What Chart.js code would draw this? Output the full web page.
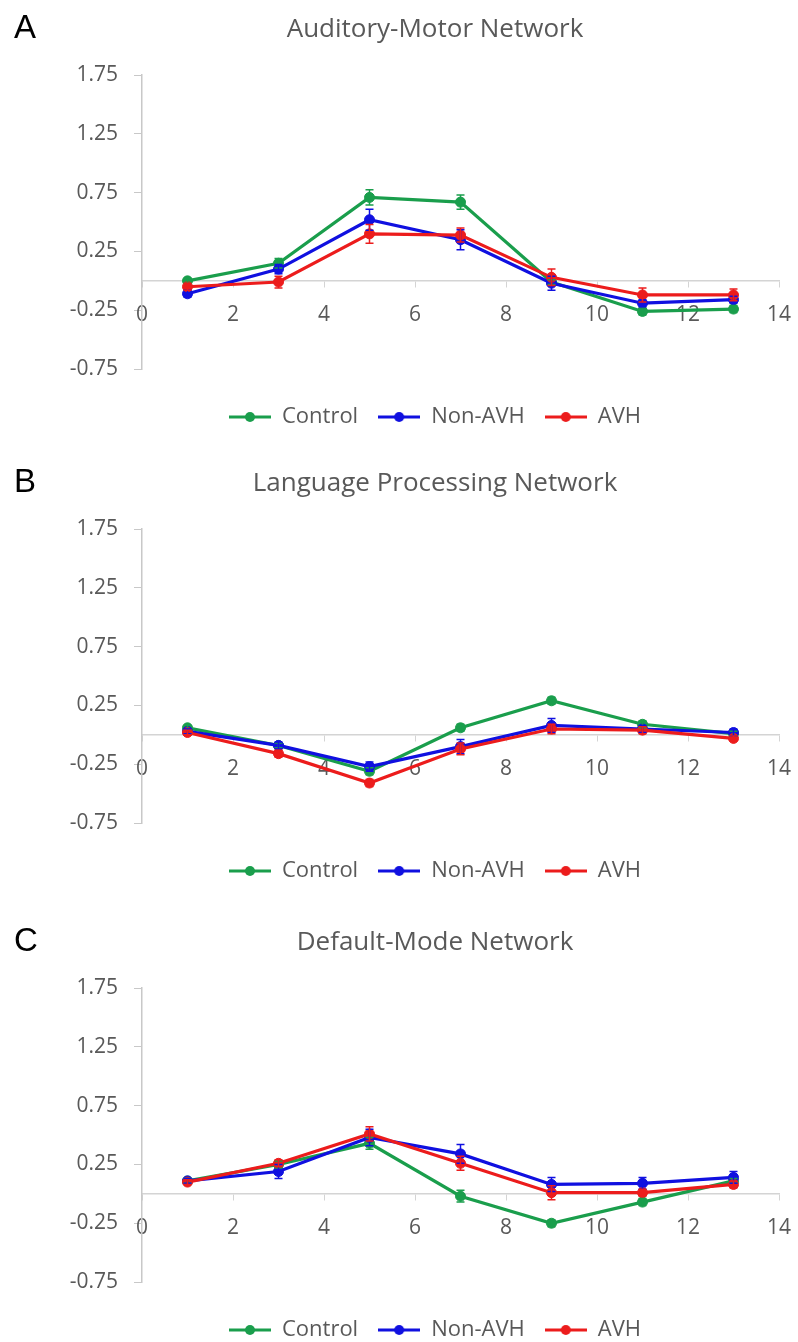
<!DOCTYPE html>
<html>
<head>
<meta charset="utf-8">
<script src="https://cdn.jsdelivr.net/npm/chart.js@4.4.1/dist/chart.umd.min.js"></script>
<style>
  body { margin: 0; background: #fff; width: 798px; height: 1342px; overflow: hidden; position: relative; }
  .panel { position: absolute; left: 0; width: 830px; height: 438px; }
  .letter { position: absolute; left: 14px; top: 10px; font: 33px "Liberation Sans", Arial, sans-serif; line-height: 1; color: #000; }
</style>
</head>
<body>
<div class="panel" style="top:0px"><canvas id="chartA" width="830" height="438"></canvas><div class="letter">A</div></div>
<div class="panel" style="top:454px"><canvas id="chartB" width="830" height="438"></canvas><div class="letter">B</div></div>
<div class="panel" style="top:913px"><canvas id="chartC" width="830" height="438"></canvas><div class="letter">C</div></div>
<script>
    const xValues = [1, 3, 5, 7, 9, 11, 13];
    const yTickValues = [1.75, 1.25, 0.75, 0.25, -0.25, -0.75];
    const groupNames = ["Control", "Non-AVH", "AVH"];

    // A - Auditory-Motor Network
    const amControl = [0.0, 0.15, 0.71, 0.67, -0.01, -0.26, -0.24];
    const amNonAvh = [-0.11, 0.10, 0.52, 0.35, -0.02, -0.19, -0.16];
    const amAvh = [-0.05, -0.01, 0.40, 0.39, 0.03, -0.12, -0.12];
    const amControlErr = [0.02, 0.04, 0.065, 0.06, 0.02, 0.03, 0.03];
    const amNonAvhErr = [0.03, 0.04, 0.09, 0.085, 0.06, 0.03, 0.03];
    const amAvhErr = [0.03, 0.05, 0.08, 0.06, 0.07, 0.06, 0.05];

    // B - Language Processing Network
    const lpControl = [0.06, -0.09, -0.31, 0.06, 0.29, 0.09, 0.01];
    const lpNonAvh = [0.03, -0.09, -0.27, -0.10, 0.08, 0.05, 0.02];
    const lpAvh = [0.02, -0.16, -0.41, -0.12, 0.05, 0.04, -0.03];
    const lpControlErr = [0.02, 0.02, 0.03, 0.03, 0.03, 0.03, 0.02];
    const lpNonAvhErr = [0.02, 0.03, 0.04, 0.06, 0.06, 0.03, 0.03];
    const lpAvhErr = [0.02, 0.03, 0.03, 0.05, 0.04, 0.03, 0.02];

    // C - Default-Mode Network
    const dmControl = [0.11, 0.25, 0.43, -0.02, -0.25, -0.07, 0.11];
    const dmNonAvh = [0.11, 0.19, 0.48, 0.34, 0.08, 0.09, 0.14];
    const dmAvh = [0.10, 0.26, 0.51, 0.26, 0.01, 0.01, 0.08];
    const dmControlErr = [0.02, 0.03, 0.05, 0.05, 0.03, 0.03, 0.02];
    const dmNonAvhErr = [0.02, 0.06, 0.07, 0.08, 0.06, 0.05, 0.05];
    const dmAvhErr = [0.02, 0.03, 0.06, 0.06, 0.06, 0.03, 0.03];

    const groupColors = ["#1a9e4c", "#1010e0", "#ec1c1c"];
    const textColor = "#595959";
    const fontFamily = "'Open Sans', sans-serif";

    // vertical error bars with caps, drawn through the chart's scales
    const errorBars = {
      id: "errorBars",
      afterDatasetsDraw(chart) {
        const ctx = chart.ctx;
        const xs = chart.scales.x;
        const ys = chart.scales.y;
        chart.data.datasets.forEach((ds) => {
          ctx.save();
          ctx.strokeStyle = ds.borderColor;
          ctx.lineWidth = 1.5;
          ds.data.forEach((pt, j) => {
            const e = ds.errors[j];
            const px = xs.getPixelForValue(pt.x);
            const top = ys.getPixelForValue(pt.y + e);
            const bottom = ys.getPixelForValue(pt.y - e);
            ctx.beginPath();
            ctx.moveTo(px, top);
            ctx.lineTo(px, bottom);
            ctx.moveTo(px - 4, top);
            ctx.lineTo(px + 4, top);
            ctx.moveTo(px - 4, bottom);
            ctx.lineTo(px + 4, bottom);
            ctx.stroke();
          });
          ctx.restore();
        });
      }
    };

    // line-with-dot icon for the legend
    function legendIcon(color) {
      const c = document.createElement("canvas");
      c.width = 42;
      c.height = 12;
      const g = c.getContext("2d");
      g.strokeStyle = color;
      g.lineWidth = 3;
      g.beginPath();
      g.moveTo(0, 6);
      g.lineTo(42, 6);
      g.stroke();
      g.fillStyle = color;
      g.beginPath();
      g.arc(21, 6, 5, 0, Math.PI * 2);
      g.fill();
      return c;
    }

    function makeSeries(values, errors, idx) {
      return {
        label: groupNames[idx],
        data: values.map((v, i) => ({ x: xValues[i], y: v })),
        errors: errors,
        borderColor: groupColors[idx],
        backgroundColor: groupColors[idx],
        pointBackgroundColor: groupColors[idx],
        borderWidth: 3.2,
        pointRadius: 5,
        pointBorderWidth: 1,
        order: 3 - idx
      };
    }

    function makePanel(id, title, series) {
      const ctx = document.getElementById(id).getContext("2d");
      return new Chart(ctx, {
        type: "line",
        data: {
          datasets: series.map((s, i) => makeSeries(s[0], s[1], i))
        },
        options: {
          responsive: false,
          animation: false,
          devicePixelRatio: 1,
          layout: { padding: { left: 60, right: 20, top: 0, bottom: 0 } },
          plugins: {
            title: {
              display: true,
              text: title,
              color: textColor,
              font: { family: fontFamily, size: 26, weight: "normal" },
              padding: { top: 14, bottom: 30 }
            },
            legend: {
              position: "bottom",
              title: { display: true, text: "", font: { size: 10 }, padding: { top: 4, bottom: 1 } },
              labels: {
                usePointStyle: true,
                pointStyleWidth: 42,
                padding: 20,
                color: textColor,
                font: { family: fontFamily, size: 22 },
                sort: (a, b) => a.datasetIndex - b.datasetIndex,
                generateLabels: (chart) => {
                  const items = Chart.defaults.plugins.legend.labels.generateLabels(chart);
                  items.forEach((it) => { it.pointStyle = legendIcon(groupColors[it.datasetIndex]); });
                  return items;
                }
              }
            },
            tooltip: { enabled: false }
          },
          scales: {
            x: {
              type: "linear",
              min: 0,
              max: 14,
              position: { y: 0 },
              ticks: { stepSize: 2, padding: 16, color: textColor, font: { family: fontFamily, size: 21 } },
              grid: { drawOnChartArea: false, tickLength: 6, color: "#d4d4d4" },
              border: { color: "#d4d4d4", width: 1.5 }
            },
            y: {
              min: -0.75,
              max: 1.75,
              afterBuildTicks: (scale) => { scale.ticks = yTickValues.map((v) => ({ value: v })); },
              afterFit: (scale) => { scale.width = 82; },
              ticks: { padding: 16, color: textColor, font: { family: fontFamily, size: 21 }, callback: (v) => v.toFixed(2) },
              grid: { drawOnChartArea: false, tickLength: 8, color: "#c8c8c8" },
              border: { color: "#c8c8c8", width: 1.5 }
            },
            // empty spacer on the right so the plot ends where the original does
            y2: {
              type: "linear",
              position: "right",
              afterFit: (scale) => { scale.width = 31; },
              ticks: { display: false },
              grid: { display: false },
              border: { display: false }
            }
          }
        },
        plugins: [errorBars]
      });
    }

    makePanel("chartA", "Auditory-Motor Network", [
      [amControl, amControlErr], [amNonAvh, amNonAvhErr], [amAvh, amAvhErr]
    ]);
    makePanel("chartB", "Language Processing Network", [
      [lpControl, lpControlErr], [lpNonAvh, lpNonAvhErr], [lpAvh, lpAvhErr]
    ]);
    makePanel("chartC", "Default-Mode Network", [
      [dmControl, dmControlErr], [dmNonAvh, dmNonAvhErr], [dmAvh, dmAvhErr]
    ]);
</script>
</body>
</html>
